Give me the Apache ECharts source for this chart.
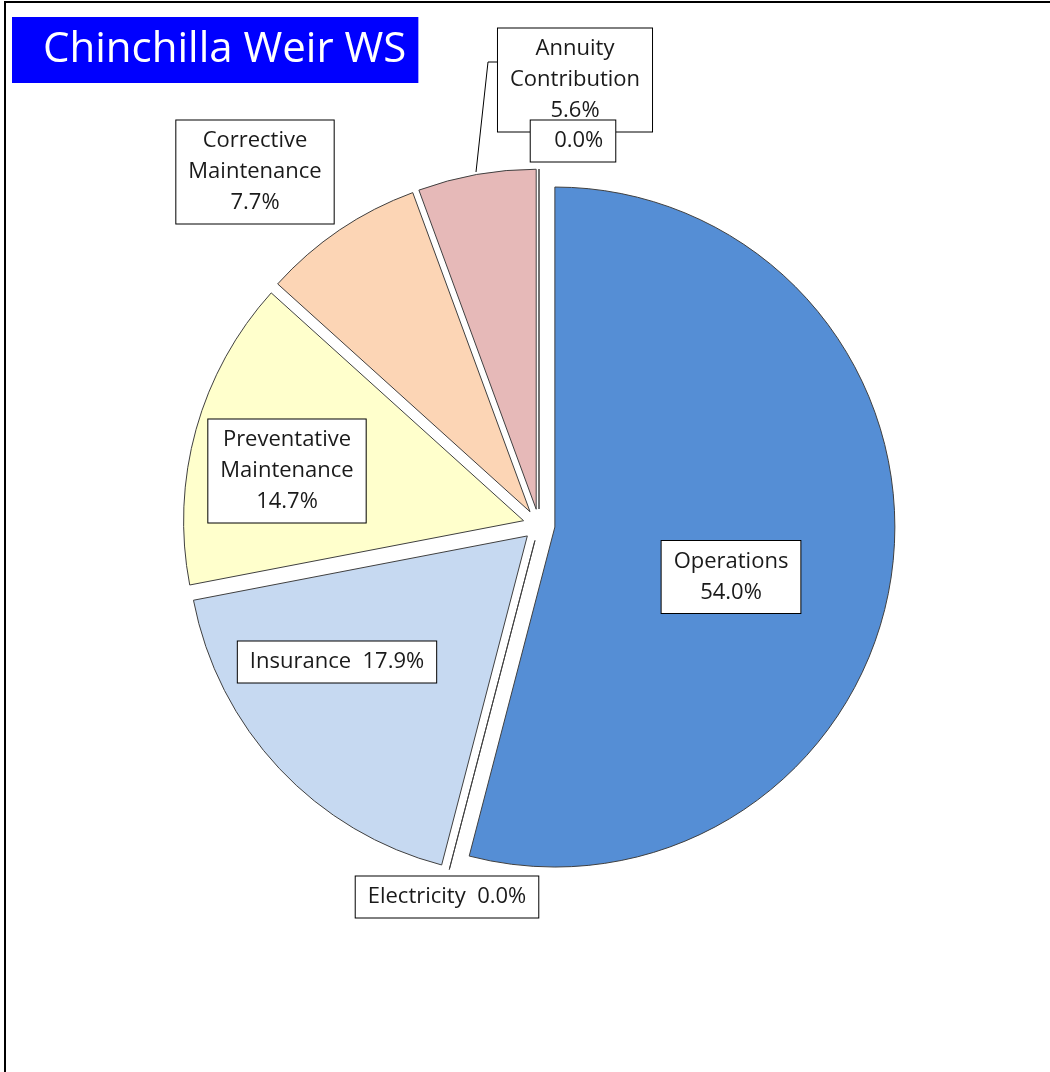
<!DOCTYPE html>
<html>
<head>
<meta charset="utf-8">
<script src="https://cdn.jsdelivr.net/npm/echarts@6/dist/echarts.min.js"></script>
<style>
  html, body { margin: 0; padding: 0; background: #fff; }
  #main { width: 1050px; height: 1072px; }
</style>
</head>
<body>
<div id="main"></div>
<script>
// 数据
var names = ['Operations', 'Electricity', 'Insurance', 'Preventative\nMaintenance', 'Corrective\nMaintenance', 'Annuity\nContribution', ''];
var shares = [54.0, 0.0, 17.9, 14.7, 7.7, 5.6, 0.0];
var colors = ['#558ED5', '#C6D9F1', '#C6D9F1', '#FFFFCC', '#FCD5B5', '#E6B9B8', '#E6B9B8'];

// label box centres (pixels) and the one leader line
var labelPos = [[731, 577], [447, 897], [337, 662], [287, 471], [255, 172], [575, 80], [573, 141]];
var annuityLeader = [[476, 172], [488, 62], [497, 62]];

var myChart = echarts.init(document.getElementById('main'));

// exploded slices (no labels here: the select state would pin them)
var sliceData = names.map(function (n, i) {
    return { name: n, value: shares[i], selected: true, itemStyle: { color: colors[i] } };
});

// same values again, invisible, only to carry the label boxes
var labelData = names.map(function (n, i) {
    var item = { name: n, value: shares[i] };
    if (i === 5) item.labelLine = { show: true };
    return item;
});

var option = {
    animation: false,
    backgroundColor: '#fff',
    title: {
        text: 'Chinchilla Weir WS',
        left: 12,
        top: 17,
        backgroundColor: '#0000FF',
        padding: [0, 12, 0, 31],
        textStyle: {
            color: '#fff',
            fontFamily: 'Open Sans',
            fontWeight: 'normal',
            fontSize: 42,
            lineHeight: 66
        }
    },
    graphic: [{
        type: 'rect',
        shape: { x: 5, y: 2, width: 1100, height: 1100 },
        style: { fill: 'none', stroke: '#000', lineWidth: 2 },
        silent: true
    }],
    series: [{
        type: 'pie',
        center: [539, 525],
        radius: 340,
        startAngle: 90,
        clockwise: true,
        selectedMode: 'multiple',
        selectedOffset: 16,
        emphasis: { disabled: true },
        itemStyle: { borderColor: '#404040', borderWidth: 1 },
        select: { itemStyle: { borderColor: '#404040', borderWidth: 1 } },
        label: { show: false },
        labelLine: { show: false },
        data: sliceData
    }, {
        type: 'pie',
        center: [539, 525],
        radius: 340,
        startAngle: 90,
        clockwise: true,
        silent: true,
        selectedMode: false,
        avoidLabelOverlap: false,
        emphasis: { disabled: true },
        itemStyle: { color: 'rgba(0,0,0,0)', borderWidth: 0 },
        label: {
            show: true,
            position: 'outside',
            formatter: function (p) {
                var pct = p.value.toFixed(1) + '%';
                if (p.dataIndex === 6) return '  ' + pct;
                if (p.name.indexOf('\n') >= 0 || p.dataIndex === 0) return p.name + '\n' + pct;
                return p.name + '  ' + pct;
            },
            color: '#1a1a1a',
            fontFamily: 'Open Sans',
            fontSize: 22,
            lineHeight: 31,
            backgroundColor: '#fff',
            borderColor: '#000',
            borderWidth: 1,
            padding: [5, 12, 5, 12],
            align: 'center'
        },
        labelLine: {
            show: false,
            lineStyle: { color: '#000', width: 1 }
        },
        labelLayout: function (params) {
            var pos = labelPos[params.dataIndex];
            var res = { x: pos[0], y: pos[1], align: 'center', verticalAlign: 'middle' };
            if (params.dataIndex === 5) res.labelLinePoints = annuityLeader;
            return res;
        },
        data: labelData
    }]
};

myChart.setOption(option);
</script>
</body>
</html>
